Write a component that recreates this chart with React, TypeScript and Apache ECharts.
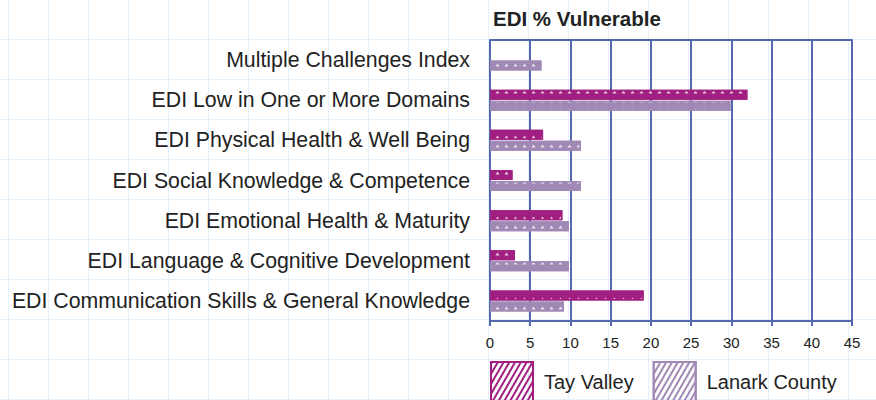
import React, { useEffect, useRef } from "react";
import * as echarts from "echarts";

const categories = [
  "Multiple Challenges Index",
  "EDI Low in One or More Domains",
  "EDI Physical Health & Well Being",
  "EDI Social Knowledge & Competence",
  "EDI Emotional Health & Maturity",
  "EDI Language & Cognitive Development",
  "EDI Communication Skills & General Knowledge",
];
const tayValley: (number | null)[] = [null, 32, 6.6, 2.8, 9.0, 3.1, 19.1];
const lanarkCounty: number[] = [6.4, 29.9, 11.3, 11.3, 9.8, 9.8, 9.2];
const xTicks = { min: 0, max: 45, interval: 5 };

const TAY = "#a11f80";
const LANARK = "#a189b6";
const AXIS = "#5468ae";

export default function App() {
  const ref = useRef<HTMLDivElement>(null);
  useEffect(() => {
    if (!ref.current) return;
    const chart = echarts.init(ref.current, null, { renderer: "svg" });
    const barDecal = {
      symbol: "triangle",
      symbolSize: 0.8,
      color: "rgba(255,255,255,0.75)",
      dashArrayX: [5, 4],
      dashArrayY: [4, 5],
      rotation: 0,
    };
    const legendDecal = (c: string) => ({
      symbol: "rect",
      symbolSize: 1,
      color: c,
      dashArrayX: [1, 0],
      dashArrayY: [2, 3],
      rotation: -Math.PI / 3,
    });
    chart.setOption({
      animation: false,
      title: {
        text: "EDI % Vulnerable",
        left: 493,
        top: 8,
        padding: 0,
        textStyle: {
          fontFamily: "Liberation Sans",
          fontSize: 20.5,
          fontWeight: "bold",
          color: "#222",
        },
      },
      legend: {
        left: 490,
        top: 361,
        padding: 0,
        itemWidth: 42,
        itemHeight: 40,
        itemGap: 19,
        icon: "rect",
        textStyle: {
          fontFamily: "Liberation Sans",
          fontSize: 20,
          color: "#222",
          padding: [0, 0, 0, 6],
        },
        data: [
          {
            name: "Tay Valley",
            itemStyle: {
              color: "rgba(255,255,255,0)",
              borderColor: TAY,
              borderWidth: 2,
              decal: legendDecal(TAY),
            },
          },
          {
            name: "Lanark County",
            itemStyle: {
              color: "rgba(255,255,255,0)",
              borderColor: LANARK,
              borderWidth: 2,
              decal: legendDecal(LANARK),
            },
          },
        ],
      },
      grid: { left: 490, right: 24, top: 40, bottom: 79, containLabel: false },
      xAxis: [
        {
          type: "value",
          position: "bottom",
          min: xTicks.min,
          max: xTicks.max,
          interval: xTicks.interval,
          axisLine: { show: true, lineStyle: { color: AXIS, width: 2 } },
          axisTick: { show: true, length: 5, lineStyle: { color: AXIS, width: 2 } },
          axisLabel: {
            margin: 14,
            fontFamily: "Liberation Sans",
            fontSize: 15,
            color: "#222",
          },
          splitLine: { show: true, lineStyle: { color: AXIS, width: 2 } },
        },
        {
          type: "value",
          position: "top",
          min: xTicks.min,
          max: xTicks.max,
          interval: xTicks.interval,
          axisLine: { show: true, lineStyle: { color: AXIS, width: 2 } },
          axisTick: { show: false },
          axisLabel: { show: false },
          splitLine: { show: false },
        },
      ],
      yAxis: {
        type: "category",
        data: categories,
        inverse: true,
        axisLine: { show: false },
        axisTick: { show: false },
        splitLine: { show: false },
        axisLabel: {
          margin: 20,
          fontFamily: "Liberation Sans",
          fontSize: 21.3,
          color: "#222",
        },
      },
      series: [
        {
          name: "Tay Valley",
          type: "bar",
          xAxisIndex: 0,
          data: tayValley,
          barWidth: 10,
          barGap: "10%",
          itemStyle: {
            color: TAY,
            borderColor: TAY,
            borderWidth: 1.5,
            decal: barDecal,
          },
        },
        {
          name: "Lanark County",
          type: "bar",
          xAxisIndex: 0,
          data: lanarkCounty,
          barWidth: 10,
          barGap: "10%",
          itemStyle: {
            color: LANARK,
            borderColor: LANARK,
            borderWidth: 1.5,
            decal: barDecal,
          },
        },
      ],
    });
    return () => chart.dispose();
  }, []);
  return (
    <div
      ref={ref}
      style={{
        position: "absolute",
        left: 0,
        top: 0,
        width: 876,
        height: 400,
        backgroundColor: "#ffffff",
        backgroundImage:
          "linear-gradient(to right, #e4f1fb 1px, transparent 1px), linear-gradient(to bottom, #e4f1fb 1px, transparent 1px)",
        backgroundSize: "40px 40px",
        backgroundPosition: "8px 39px",
      }}
    />
  );
}
